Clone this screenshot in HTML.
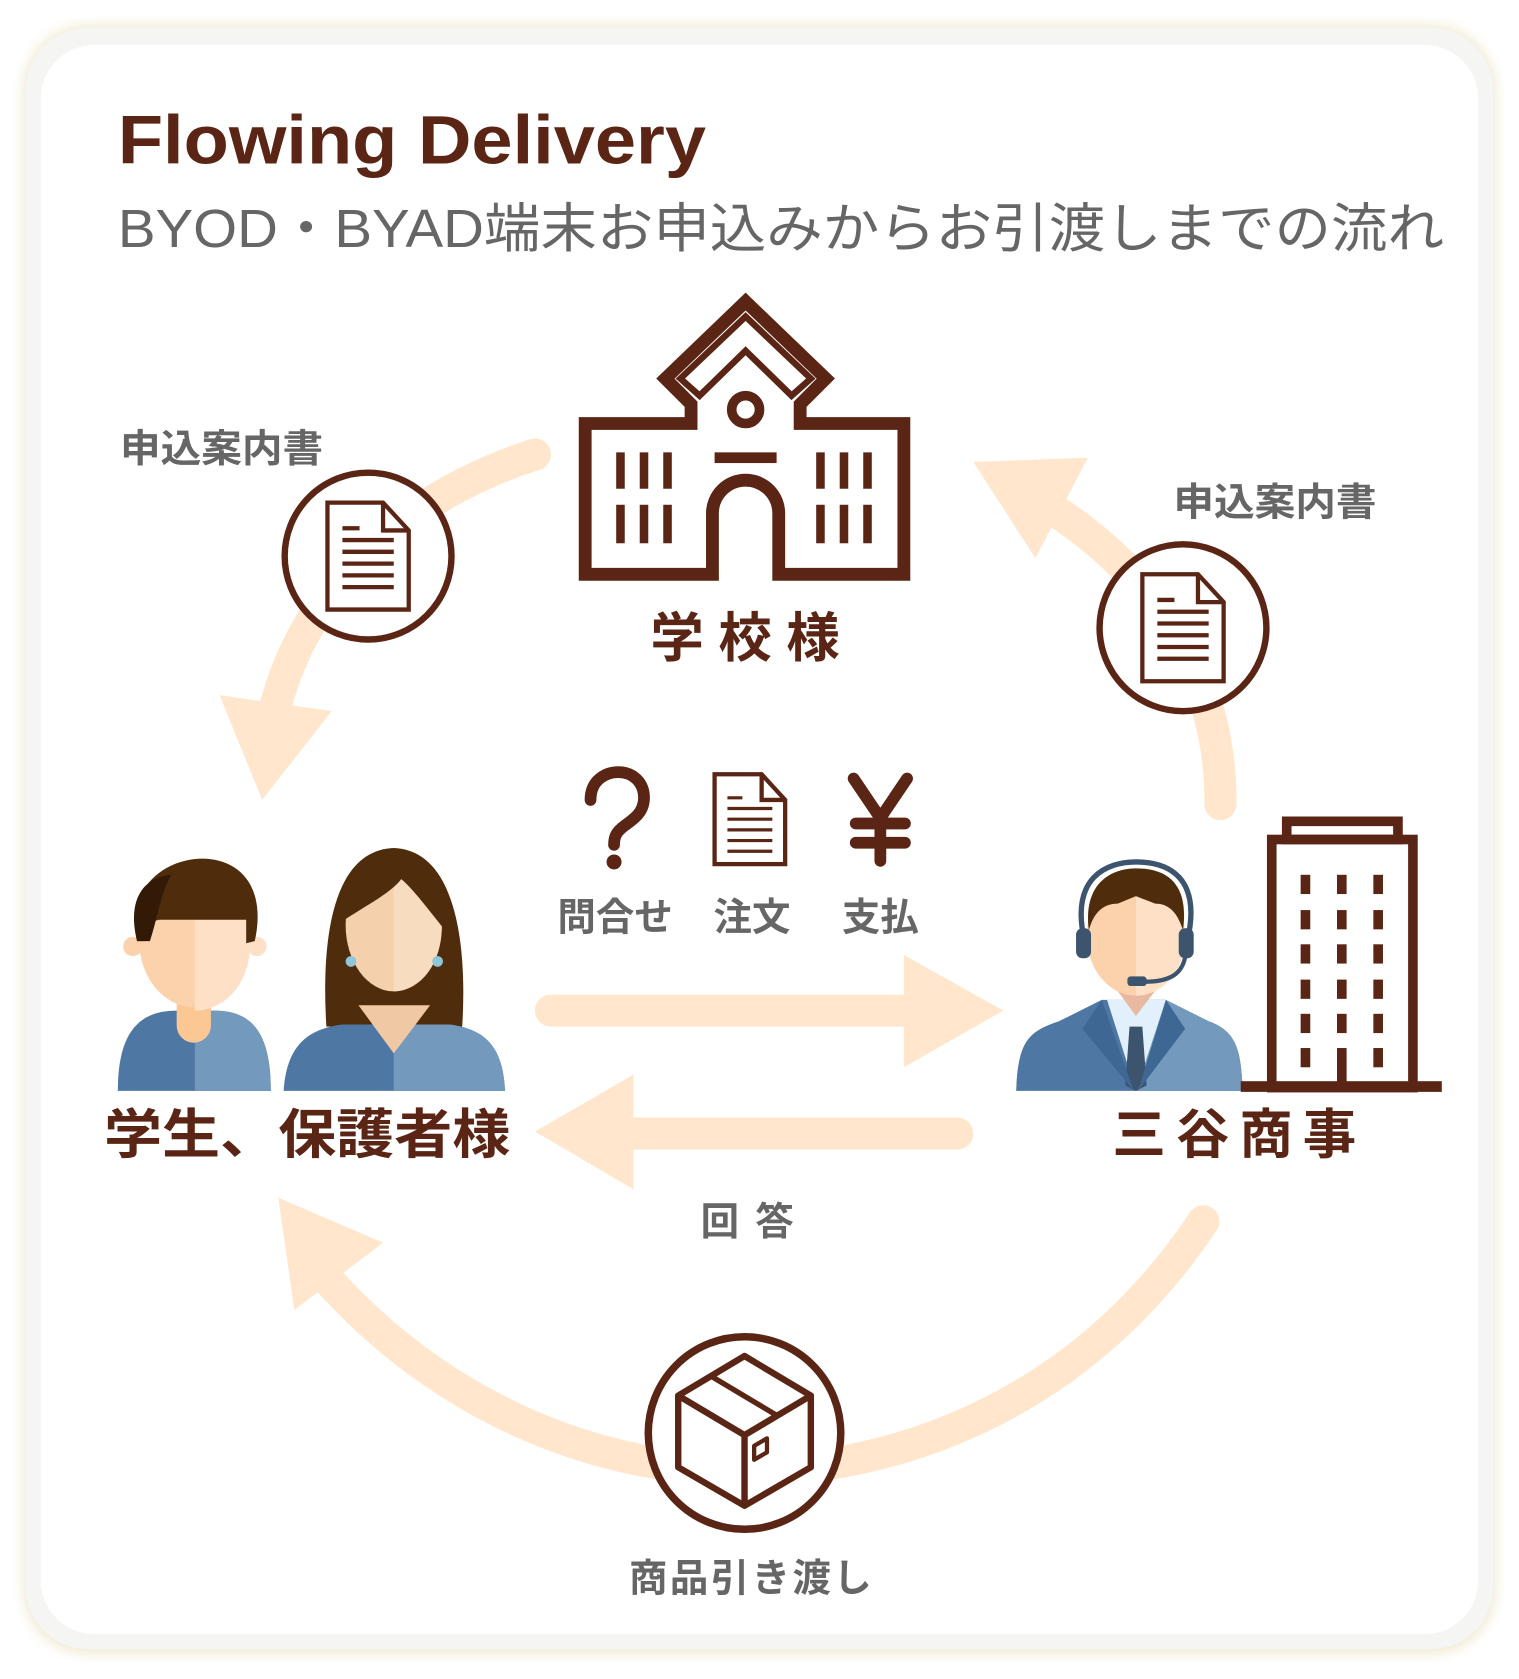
<!DOCTYPE html>
<html><head><meta charset="utf-8"><style>
html,body{margin:0;padding:0;background:#fff;}
svg{display:block}
text{font-family:"Liberation Sans","Noto Sans CJK JP",sans-serif;}
</style></head><body>
<svg width="1519" height="1679" viewBox="0 0 1420 1570" xmlns="http://www.w3.org/2000/svg">
<defs>
<filter id="sh" x="-5%" y="-5%" width="110%" height="110%"><feGaussianBlur stdDeviation="6"/></filter>
</defs>
<rect x="0" y="0" width="1420" height="1570" fill="#fff"/>
<rect x="22" y="24" width="1376" height="1522" rx="60" fill="#efe9cf" filter="url(#sh)"/>
<rect x="24" y="26" width="1372" height="1516" rx="58" fill="#f5f5f4"/>
<rect x="38" y="42" width="1344" height="1486" rx="50" fill="#fff"/>

<text x="110" y="153" font-size="64" font-weight="bold" fill="#5a2514" textLength="550" lengthAdjust="spacingAndGlyphs">Flowing Delivery</text>
<text x="110" y="231" font-size="50" fill="#666" textLength="1240" lengthAdjust="spacingAndGlyphs">BYOD・BYAD端末お申込みからお引渡しまでの流れ</text>

<!-- arcs -->
<g fill="none" stroke="#ffe6cc" stroke-width="30" stroke-linecap="round">
<path d="M500,425 C390,460 285,540 255,670"/>
<path d="M1141,752 C1142,650 1095,550 990,480"/>
<path d="M1125,1142 C1030,1285 880,1372 696,1376 C520,1372 390,1290 305,1195"/>
<line x1="515" y1="945" x2="850" y2="945"/>
<line x1="590" y1="1060" x2="895" y2="1060"/>
</g>
<g fill="#ffe6cc">
<polygon points="205,650 310,665 245,748"/>
<polygon points="910,432 1017,428 968,522"/>
<polygon points="260,1120 358,1162 275,1225"/>
<polygon points="845,893 938,945 845,998"/>
<polygon points="592,1005 500,1058 592,1112"/>
</g>

<!-- school -->
<g fill="none" stroke="#5a2514" stroke-width="12">
<path d="M547,396 H646 V378 L622,354 L697,282 L772,354 L748,378 V396 H845 V537 H728 V480 A31,31 0 0 0 666,480 V537 H547 Z"/>
<path d="M636,354 L697,296 L758,354 L740,370 L697,328 L654,370 Z" stroke-width="6"/>
<circle cx="697" cy="383" r="13" stroke-width="9"/>
</g>
<g fill="#5a2514">
<rect x="668" y="423" width="58" height="10"/>
<rect x="576" y="423" width="8" height="34"/><rect x="598" y="423" width="8" height="34"/><rect x="620" y="423" width="8" height="34"/>
<rect x="576" y="472" width="8" height="36"/><rect x="598" y="472" width="8" height="36"/><rect x="620" y="472" width="8" height="36"/>
<rect x="763" y="423" width="8" height="34"/><rect x="785" y="423" width="8" height="34"/><rect x="807" y="423" width="8" height="34"/>
<rect x="763" y="472" width="8" height="36"/><rect x="785" y="472" width="8" height="36"/><rect x="807" y="472" width="8" height="36"/>
</g>
<text x="608" y="614" font-size="50" font-weight="bold" fill="#5a2514" textLength="177" lengthAdjust="spacing">学校様</text>

<!-- doc circles -->
<g fill="#fff" stroke="#5a2514">
<circle cx="344" cy="520" r="78" stroke-width="6"/>
<circle cx="1106" cy="587" r="78" stroke-width="6"/>
</g>
<g fill="none" stroke="#5a2514" stroke-width="4">
<path d="M306,470 H358 L382,496 V570 H306 Z M358,470 V496 H382"/>
<path d="M1068,537 H1120 L1144,563 V637 H1068 Z M1120,537 V563 H1144"/>
<path d="M668,724 H712 L734,748 V808 H668 Z M712,724 V748 H734"/>
</g>
<g stroke="#5a2514" stroke-width="4">
<path d="M320,494 H336 M320,505 H368 M320,516 H368 M320,527 H368 M320,538 H368 M320,549 H368"/>
<path d="M1082,561 H1098 M1082,572 H1130 M1082,583 H1130 M1082,594 H1130 M1082,605 H1130 M1082,616 H1130"/>
<path d="M680,746 H694 M680,756 H722 M680,766 H722 M680,776 H722 M680,786 H722 M680,796 H722" stroke-width="3"/>
</g>
<text x="112" y="432" font-size="36" font-weight="bold" fill="#666" textLength="190" lengthAdjust="spacingAndGlyphs">申込案内書</text>
<text x="1097" y="482" font-size="36" font-weight="bold" fill="#666" textLength="190" lengthAdjust="spacingAndGlyphs">申込案内書</text>

<!-- ? and yen -->
<g fill="none" stroke="#5a2514" stroke-width="11" stroke-linecap="round">
<path d="M552,748 C552,728 568,722 578,722 C592,722 602,732 602,746 C602,760 592,766 584,772 C576,778 574,782 574,790"/>
</g>
<circle cx="574" cy="806" r="7" fill="#5a2514"/>
<g stroke="#5a2514" stroke-width="11" stroke-linecap="round" fill="none">
<path d="M798,728 L823,765 L848,728 M823,765 V805 M800,770 H846 M800,788 H846"/>
</g>
<text x="575" y="870" font-size="36" font-weight="bold" fill="#666" text-anchor="middle">問合せ</text>
<text x="703" y="870" font-size="36" font-weight="bold" fill="#666" text-anchor="middle">注文</text>
<text x="823" y="870" font-size="36" font-weight="bold" fill="#666" text-anchor="middle">支払</text>

<!-- boy -->
<path d="M110,1020 C110,965 130,945 165,945 H200 C235,945 253,965 253,1020 Z" fill="#4f77a3"/>
<path d="M182,945 H200 C235,945 253,965 253,1020 H182 Z" fill="#7399bd"/>
<rect x="165" y="915" width="32" height="60" rx="16" fill="#fbc894"/>
<ellipse cx="182" cy="880" rx="52" ry="62" fill="#fcd2ac"/>
<path d="M182,820 C205,820 234,850 234,880 C234,920 210,945 182,945 Z" fill="#fde0c5"/>
<circle cx="124" cy="885" r="9" fill="#fcd2ac"/><circle cx="240" cy="885" r="9" fill="#fde0c5"/>
<path d="M128,880 C115,820 170,795 205,805 C240,815 245,850 238,880 L230,882 V860 H150 C140,860 138,870 135,880 Z" fill="#4f2c0c"/>
<path d="M128,880 C118,840 135,820 160,818 C150,835 148,855 140,880 Z" fill="#331a06"/>

<!-- girl -->
<path d="M305,960 C300,880 310,795 368,793 C425,795 437,880 432,960 Z" fill="#4f2c0c"/>
<path d="M265,1020 C268,975 290,962 320,958 H420 C450,962 470,975 472,1020 Z" fill="#4f77a3"/>
<path d="M368,958 H420 C450,962 470,975 472,1020 H368 Z" fill="#7399bd"/>
<path d="M335,940 L368,985 L402,940 Z" fill="#f0c8a4"/>
<ellipse cx="368" cy="865" rx="45" ry="62" fill="#f5d0ad"/>
<path d="M368,803 C395,805 413,840 413,865 C413,905 390,927 368,927 Z" fill="#f8dcc0"/>
<path d="M322,860 C320,815 345,800 368,800 C395,800 418,820 416,870 C400,850 385,830 375,822 C365,835 345,845 322,860 Z" fill="#4f2c0c"/>
<circle cx="328" cy="899" r="5" fill="#8ec7d9"/><circle cx="409" cy="899" r="5" fill="#8ec7d9"/>

<text x="97" y="1078" font-size="50" font-weight="bold" fill="#5a2514" textLength="380" lengthAdjust="spacingAndGlyphs">学生、保護者様</text>

<!-- man -->
<path d="M950,1020 C952,975 960,965 990,955 L1030,935 H1090 L1130,955 C1158,965 1160,985 1162,1020 Z" fill="#4f77a3"/>
<path d="M1062,935 H1090 L1130,955 C1158,965 1160,985 1162,1020 H1062 Z" fill="#7399bd"/>
<path d="M1035,935 L1062,1020 L1090,935 Z" fill="#e2f0fb"/>
<path d="M1040,920 H1085 L1062,950 Z" fill="#e8b8a0"/>
<path d="M1056,960 L1068,960 L1072,1015 L1062,1020 L1052,1015 Z" fill="#3d546f"/>
<path d="M1030,935 L1012,962 L1060,1020 Z M1090,935 L1108,962 L1064,1020 Z" fill="#3f6794"/>
<ellipse cx="1062" cy="875" rx="46" ry="56" fill="#fcd2ac"/>
<path d="M1062,820 C1085,820 1108,845 1108,875 C1108,910 1085,931 1062,931 Z" fill="#fde0c5"/>
<path d="M1018,870 C1012,825 1040,812 1062,812 C1090,812 1112,825 1106,870 C1100,850 1090,845 1080,845 L1062,838 L1045,845 C1030,845 1022,855 1018,870 Z" fill="#4f2c0c"/>
<path d="M1014,880 C1000,820 1035,806 1062,806 C1092,806 1124,820 1110,880" fill="none" stroke="#3d546f" stroke-width="5"/>
<rect x="1006" y="868" width="14" height="28" rx="6" fill="#3d546f"/><rect x="1102" y="868" width="14" height="28" rx="6" fill="#3d546f"/>
<path d="M1108,895 C1105,910 1095,918 1070,918" fill="none" stroke="#3d546f" stroke-width="4"/>
<rect x="1054" y="913" width="18" height="9" rx="3" fill="#3d546f"/>

<!-- building -->
<g fill="none" stroke="#5a2514" stroke-width="9">
<rect x="1189" y="785" width="132" height="232"/>
<rect x="1203" y="768" width="104" height="17"/>
</g>
<rect x="1160" y="1011" width="188" height="10" fill="#5a2514"/>
<g fill="#5a2514">
<rect x="1216" y="818" width="9" height="18"/><rect x="1250" y="818" width="9" height="18"/><rect x="1284" y="818" width="9" height="18"/>
<rect x="1216" y="851" width="9" height="18"/><rect x="1250" y="851" width="9" height="18"/><rect x="1284" y="851" width="9" height="18"/>
<rect x="1216" y="883" width="9" height="18"/><rect x="1250" y="883" width="9" height="18"/><rect x="1284" y="883" width="9" height="18"/>
<rect x="1216" y="916" width="9" height="18"/><rect x="1250" y="916" width="9" height="18"/><rect x="1284" y="916" width="9" height="18"/>
<rect x="1216" y="948" width="9" height="18"/><rect x="1250" y="948" width="9" height="18"/><rect x="1284" y="948" width="9" height="18"/>
<rect x="1216" y="980" width="9" height="18"/><rect x="1250" y="980" width="9" height="35"/><rect x="1284" y="980" width="9" height="18"/>
</g>
<text x="1040" y="1078" font-size="50" font-weight="bold" fill="#5a2514" textLength="228" lengthAdjust="spacing">三谷商事</text>

<text x="655" y="1155" font-size="36" font-weight="bold" fill="#666" textLength="87" lengthAdjust="spacing">回答</text>

<!-- box circle -->
<circle cx="696" cy="1340" r="90" fill="#fff" stroke="#5a2514" stroke-width="7"/>
<g fill="none" stroke="#5a2514" stroke-width="6" stroke-linejoin="round">
<path d="M696,1268 L758,1305 V1372 L696,1408 L634,1372 V1305 Z"/>
<path d="M634,1305 L696,1342 L758,1305 M696,1342 V1408"/>
<path d="M665,1287 L727,1324" stroke-width="5"/>
<path d="M705,1352 L717,1345 V1358 L705,1365 Z" stroke-width="4"/>
</g>
<text x="588" y="1488" font-size="36" font-weight="bold" fill="#666" textLength="227" lengthAdjust="spacing">商品引き渡し</text>
</svg>
</body></html>
